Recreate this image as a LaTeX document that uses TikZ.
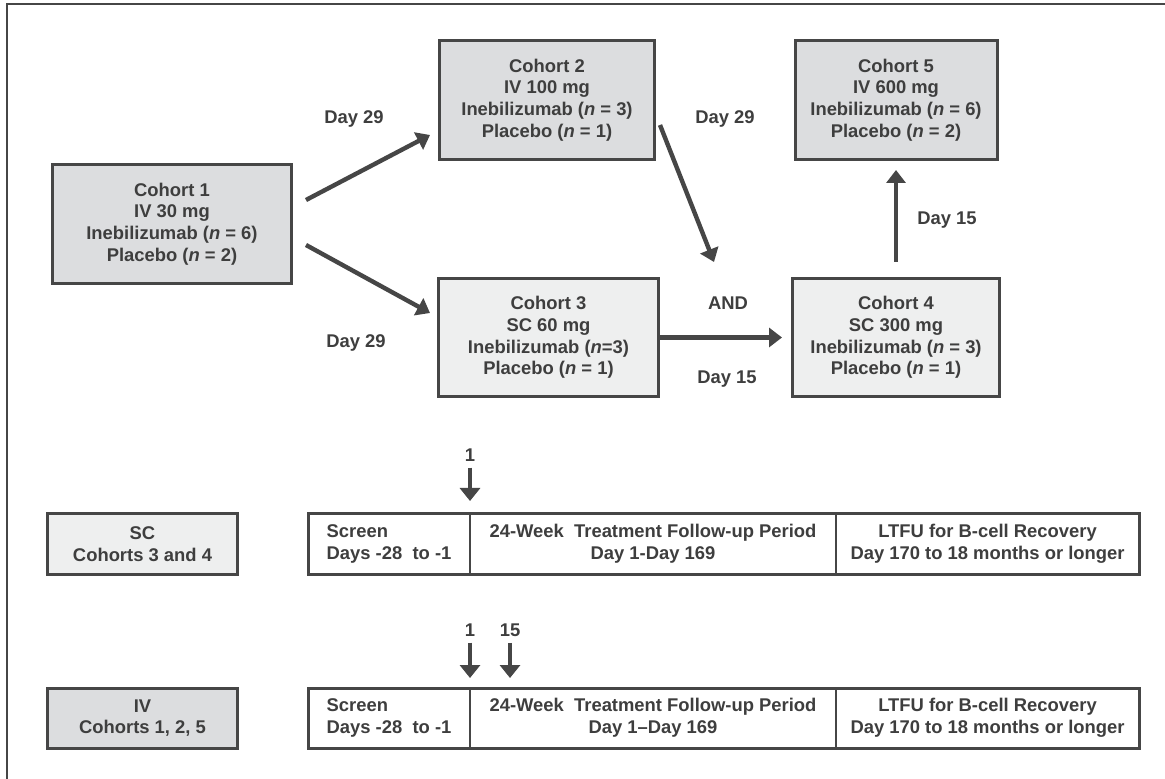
\documentclass[tikz,border=0pt]{standalone}
\usepackage{fontspec}
\setmainfont{Liberation Sans}
\usetikzlibrary{arrows.meta, positioning, calc}
\definecolor{boxline}{HTML}{464646}
\definecolor{ivgray}{HTML}{DCDDDF}
\definecolor{scgray}{HTML}{EEEFEF}
\definecolor{inkgray}{HTML}{3E3E3E}

\begin{document}
\begin{tikzpicture}[x=0.5pt, y=-0.5pt,
    every node/.style={text=inkgray, font=\fontsize{9.2}{10.85}\selectfont\bfseries},
    cohort/.style={draw=boxline, line width=1.5pt, align=center, inner sep=0pt},
    ivbox/.style={cohort, fill=ivgray},
    scbox/.style={cohort, fill=scgray},
    phase/.style={draw=boxline, line width=1pt, fill=white, outer sep=0pt,
                  minimum height=30pt, inner sep=0pt},
    num/.style={inner sep=3pt},
    flow/.style={draw=boxline, line width=2.2pt, -{Triangle[length=6.5pt, width=9.5pt]}},
    tick/.style={draw=boxline, line width=2.4pt, -{Triangle[length=6.5pt, width=10pt]}},
]
    \fill[white] (0,0) rectangle (1165,779);
    \useasboundingbox (0,0) rectangle (1165,779);
    \draw[boxline, line width=0.8pt] (7,779) -- (7,4) -- (1165,4);

    % Cohorts
    \node[ivbox, minimum width=119.5pt, minimum height=59.5pt] (c1) at (172,224)
        {Cohort 1\\IV 30 mg\\Inebilizumab (\textit{n} = 6)\\Placebo (\textit{n} = 2)};
    \node[ivbox, minimum width=107.5pt, minimum height=59.5pt] (c2) at (547,100)
        {Cohort 2\\IV 100 mg\\Inebilizumab (\textit{n} = 3)\\Placebo (\textit{n} = 1)};
    \node[scbox, minimum width=110pt, minimum height=59pt] (c3) at (548.5,337.5)
        {Cohort 3\\SC 60 mg\\Inebilizumab (\textit{n}=3)\\Placebo (\textit{n} = 1)};
    \node[scbox, minimum width=103.5pt, minimum height=59pt] (c4) at (896,337.5)
        {Cohort 4\\SC 300 mg\\Inebilizumab (\textit{n} = 3)\\Placebo (\textit{n} = 1)};
    \node[ivbox, minimum width=101pt, minimum height=59.5pt] (c5) at (896,100)
        {Cohort 5\\IV 600 mg\\Inebilizumab (\textit{n} = 6)\\Placebo (\textit{n} = 2)};

    % Escalation labels
    \node (d29up) at (354,119) {Day 29};
    \node (d29low) at (356,343) {Day 29};
    \node (d29mid) at (725,119) {Day 29};
    \node (andlab) at (728,303) {AND};
    \node (d15low) at (727,379) {Day 15};
    \node (d15up) at (947,220) {Day 15};

    % Escalation arrows
    \draw[flow] ($(c1.east)+(13,-24)$) -- ($(c2.west)+(-8,35)$);
    \draw[flow] ($(c1.east)+(13,21)$) -- ($(c3.west)+(-7,-24.5)$);
    \draw[flow] ($(c2.east)+(4,25)$) -- ($(andlab)+(-14,-41)$);
    \draw[flow] (c3.east) -- ($(c4.west)+(-9,0)$);
    \draw[flow] ($(c4.north)+(0,-15)$) -- ($(c5.south)+(0,9)$);

    % Timelines
    \foreach \r/\y/\fc/\route/\grp/\dd in {sc/544/scgray/SC/{Cohorts 3 and 4}/-,
                                           iv/718/ivgray/IV/{Cohorts 1, 2, 5}/–} {
        \node[cohort, fill=\fc, minimum width=95pt, minimum height=30pt] (grp\r) at (142.5,\y)
            {\route\\\grp};
        \node[phase, minimum width=81pt, align=left] (scr\r) at (389,\y)
            {Screen\\Days -28\ \ to -1};
        \node[phase, minimum width=183pt, align=center, right=0pt of scr\r] (trt\r)
            {24-Week\ \ Treatment Follow-up Period\\Day 1\dd Day 169};
        \node[phase, minimum width=151.5pt, align=center, right=0pt of trt\r] (ltfu\r)
            {LTFU for B-cell Recovery\\Day 170 to 18 months or longer};
        \draw[boxline, line width=1.5pt] (scr\r.north west) rectangle (ltfu\r.south east);
    }

    % Dosing days
    \node[num] (n1sc) at (470,455) {1};
    \draw[tick] (n1sc) -- ($(scrsc.north east)+(0,-13)$);
    \node[num] (n1iv) at (470,630) {1};
    \node[num] (n15iv) at (510,630) {15};
    \draw[tick] (n1iv) -- ($(scriv.north east)+(0,-10)$);
    \draw[tick] (n15iv) -- ($(n15iv |- scriv.north)+(0,-10)$);
\end{tikzpicture}
\end{document}
